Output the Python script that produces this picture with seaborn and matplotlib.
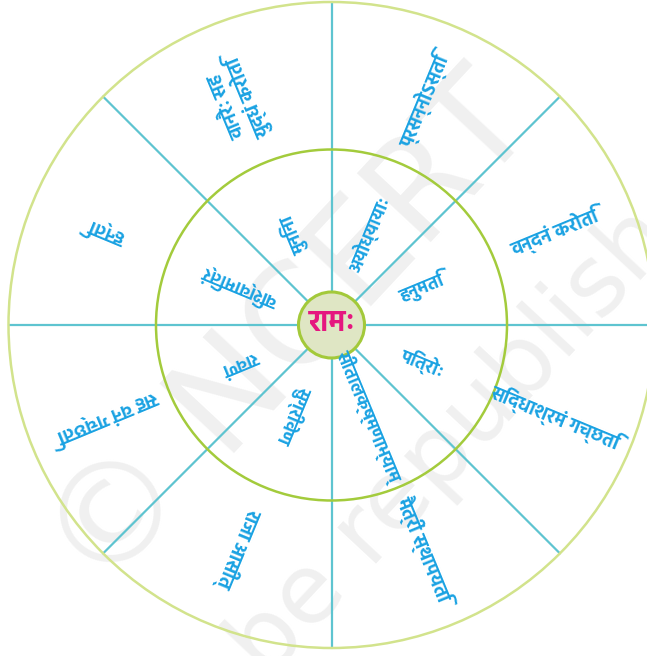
import numpy as np
import pandas as pd
import matplotlib
matplotlib.use("Agg")
import matplotlib.pyplot as plt
from matplotlib.patches import Circle
import seaborn as sns

# word web around the centre word
centre_word = "रामः"
spoke_angles = [90, 45, 0, -45, -90, -135, 180, 135]
sector_angles = [112.5, 67.5, 22.5, -22.5, -67.5, -112.5, -157.5, 157.5]
inner_words = ["मुनिना", "अयोध्यायाः", "हनुमति", "पित्रोः",
               "सीतालक्ष्मणाभ्याम्", "सुग्रीवेण", "रावणं", "विश्वामित्रं"]
outer_words = ["वानरैः सह\nयुद्धं करोति", "प्रसन्नोऽस्ति", "वन्दनं करोति",
               "सिद्धाश्रमं गच्छति", "मैत्रीं स्थापयति", "राजा आसीत्",
               "सह वनं गच्छति", "हन्ति"]

sns.set_theme(style="white")
plt.rcParams["font.family"] = ["Hind", "DejaVu Sans"]

cx, cy = 331.5, 331
r_outer, r_inner, r_centre = 323, 175.5, 33

fig = plt.figure(figsize=(6.47, 6.56), dpi=100)
ax = fig.add_axes([0, 0, 1, 1])
ax.set_xlim(0, 647)
ax.set_ylim(0, 656)
ax.set_aspect("equal")
ax.axis("off")

# watermark
ax.text(292, 656 - 335, "© NCERT", rotation=47, ha="center", va="center",
        fontsize=100, color="#f0f0f0", family="DejaVu Sans", zorder=0)
ax.text(385, 656 - 515, "not to be republished", rotation=47, ha="center",
        va="center", fontsize=70, color="#f0f0f0", family="DejaVu Sans", zorder=0)

# spokes
rows = []
for i, a in enumerate(spoke_angles):
    for r in (0, r_outer):
        rows.append({"spoke": i, "x": cx + r * np.cos(np.radians(a)),
                     "y": cy + r * np.sin(np.radians(a))})
spokes = pd.DataFrame(rows)
sns.lineplot(data=spokes, x="x", y="y", units="spoke", estimator=None,
             sort=False, color="#5ec4d0", lw=1.6, ax=ax, legend=False)

ax.add_patch(Circle((cx, cy), r_outer, fill=False, ec="#d2e38c", lw=1.8, zorder=3))
ax.add_patch(Circle((cx, cy), r_inner, fill=False, ec="#a3cb3c", lw=1.8, zorder=3))
ax.add_patch(Circle((cx, cy), r_centre, fc="#dfe6c4", ec="#a3c93a", lw=2.2, zorder=4))

ax.text(cx, cy + 2, centre_word, ha="center", va="center", fontsize=21,
        fontweight="bold", color="#e5177f", zorder=5)

blue = "#1aa2e2"
for a, w in zip(sector_angles, inner_words):
    t = np.radians(a)
    ax.text(cx + 98 * np.cos(t), cy + 98 * np.sin(t), w, rotation=a,
            rotation_mode="anchor", ha="center", va="center", fontsize=13,
            fontweight="bold", color=blue, zorder=5)
for a, w in zip(sector_angles, outer_words):
    t = np.radians(a)
    ax.text(cx + 242 * np.cos(t), cy + 242 * np.sin(t), w, rotation=a,
            rotation_mode="anchor", ha="center", va="center", fontsize=13.5,
            fontweight="bold", color=blue, linespacing=1.15, zorder=5)

fig.savefig("out.png", dpi=100)
